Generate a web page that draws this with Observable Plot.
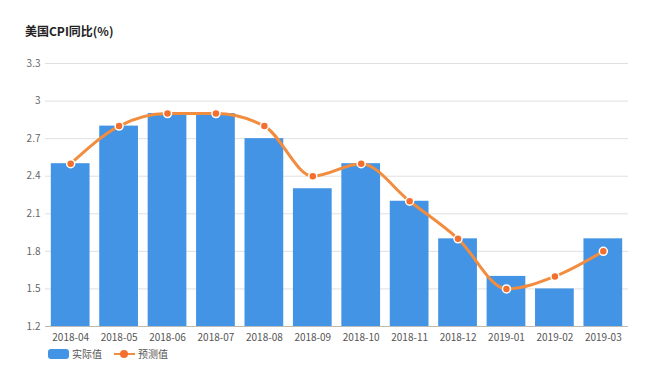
<!DOCTYPE html>
<html><head><meta charset="utf-8">
<script src="https://cdn.jsdelivr.net/npm/d3@7"></script>
<script src="https://cdn.jsdelivr.net/npm/@observablehq/plot@0.6"></script>
<style>
body{margin:0;background:#fff;font-family:"Noto Sans CJK SC","Noto Sans",sans-serif;}
#title{position:absolute;left:25px;top:22px;font-size:12px;font-weight:bold;color:#222;}
#chart{position:absolute;left:0;top:45px;}
#legend{position:absolute;left:48px;top:346px;font-size:10px;color:#555;display:flex;align-items:center;}
.sw{display:inline-block;width:21px;height:10px;border-radius:3px;background:#4394e5;margin-right:3px;}
.ln{position:relative;display:inline-block;width:21px;height:10px;margin-left:12px;margin-right:3px;}
.ln:before{content:"";position:absolute;left:0;right:0;top:4px;height:2px;background:#f28c3f;}
.ln:after{content:"";position:absolute;left:6px;top:1px;width:8px;height:8px;border-radius:50%;background:#f26f2e;}
</style></head>
<body>
<div id="title">美国CPI同比(%)</div>
<div id="chart"></div>
<div id="legend"><span class="sw"></span>实际值<span class="ln"></span>预测值</div>
<script>
const months = ["2018-04","2018-05","2018-06","2018-07","2018-08","2018-09","2018-10","2018-11","2018-12","2019-01","2019-02","2019-03"];
const actual = [2.5,2.8,2.9,2.9,2.7,2.3,2.5,2.2,1.9,1.6,1.5,1.9];
const forecast = [2.5,2.8,2.9,2.9,2.8,2.4,2.5,2.2,1.9,1.5,1.6,1.8];
const yTicks = [1.2,1.5,1.8,2.1,2.4,2.7,3,3.3];

const data = months.map((m,i)=>({month:m, actual:actual[i], forecast:forecast[i]}));

const chart = Plot.plot({
  width:650, height:300,
  marginLeft:45, marginRight:22, marginTop:18, marginBottom:19,
  style:{fontFamily:"'Noto Sans CJK SC','Noto Sans',sans-serif", fontSize:"10px", color:"#666"},
  x:{type:"band", domain:months, paddingInner:0.2, paddingOuter:0.12, round:false, label:null},
  y:{domain:[1.2,3.3], ticks:yTicks, label:null},
  marks:[
    Plot.gridY(yTicks,{stroke:"#e0e0e0", strokeOpacity:1}),
    Plot.barY(data,{x:"month", y1:1.2, y2:"actual", fill:"#4394e5"}),
    Plot.ruleY([1.2],{stroke:"#bbb"}),
    Plot.line(data,{x:"month", y:"forecast", stroke:"#f28c3f", strokeWidth:3, curve:"monotone-x"}),
    Plot.dot(data,{x:"month", y:"forecast", r:4, fill:"#f26f2e", stroke:"#fff", strokeWidth:1.5}),
    Plot.axisY(yTicks,{tickSize:0, tickPadding:5, tickFormat:d=>String(d), fill:"#666"}),
    Plot.axisX({tickSize:0, tickPadding:7, fill:"#555"})
  ]
});
document.getElementById("chart").appendChild(chart);
</script>
</body></html>
